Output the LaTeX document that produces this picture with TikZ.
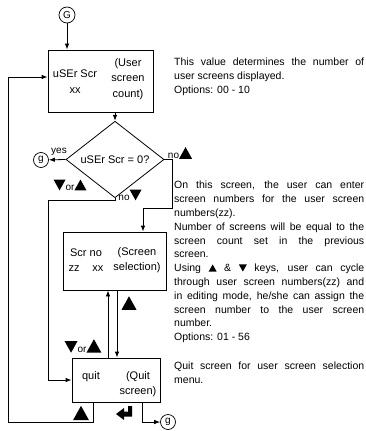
\documentclass[tikz,border=0pt]{standalone}
\usepackage{fontspec}
\setmainfont{Liberation Sans}
\usetikzlibrary{arrows.meta,shapes.geometric}
\newcommand\tup[1]{\tikz[x=1pt,y=1pt,baseline=0pt]\fill (0,0)--(#1,0)--(#1/2,0.9*#1)--cycle;}
\newcommand\tdn[1]{\tikz[x=1pt,y=1pt,baseline=0pt]\fill (0,0.9*#1)--(#1,0.9*#1)--(#1/2,0)--cycle;}
\begin{document}
\begin{tikzpicture}[x=1pt,y=-1pt,
  boxst/.style={draw,line width=0.8pt,inner sep=0pt},
  conn/.style={line width=0.8pt,-{Latex[length=6pt,width=4.5pt]}},
  circ/.style={circle,draw,line width=0.7pt,inner sep=0pt,minimum size=15pt,font=\fontsize{10}{10}\selectfont},
  btxt/.style={inner sep=0pt,align=center,font=\fontsize{11}{15.5}\selectfont},
  lbl/.style={inner sep=0pt,font=\fontsize{10}{12}\selectfont},
  desc/.style={inner sep=0pt,anchor=north west,text width=190pt,align=justify,font=\fontsize{10.5}{13.8}\selectfont},
  dia/.style={diamond,draw,line width=0.8pt,inner sep=0pt,minimum width=98pt,minimum height=53pt,font=\fontsize{11}{13}\selectfont}]
\useasboundingbox (0,0) rectangle (366,431);

% nodes
\node[circ,minimum size=16pt] (G) at (67,15) {G};
\node[boxst,minimum width=105pt,minimum height=62pt] (b1) at (100.5,81) {};
\node[btxt] (b1l) at (75,81.5) {uSEr Scr\\xx};
\node[btxt] (b1r) at (128,79) {(User\\screen\\count)};
\node[dia] (d) at (115,159.5) {uSEr Scr = 0?};
\node[circ] (g1) at (41,160) {g};
\node[boxst,minimum width=103pt,minimum height=58pt] (b2) at (114.5,261) {};
\node[btxt] (b2l) at (86,260) {Scr no\\zz\hspace{13pt}xx};
\node[btxt] (b2r) at (137,260) {(Screen\\selection)};
\node[boxst,minimum width=88pt,minimum height=44pt] (q) at (116,380) {};
\node[btxt] (ql) at (91,377) {quit};
\node[btxt] (qr) at (138,384) {(Quit\\screen)};
\node[circ] (g2) at (168,422) {g};

% connectors
\draw[conn] (G) -- (G |- b1.north);
\draw[conn] (d.north |- b1.south) -- (d.north);
\draw[conn] (d.west) -- (g1);
\coordinate (n1) at (115,200);
\coordinate (n2) at (48,200);
\draw[conn] (d.south) -- (n1) -- (n2) -- (n2 |- q.west) -- (q.west);
\coordinate (e1) at (172,159.5);
\coordinate (e2) at (172,208);
\coordinate (e3) at (143,208);
\draw[conn] (d.east) -- (e1) -- (e2) -- (e3) -- (e3 |- b2.north);
\coordinate (u) at (108,0);
\coordinate (v) at (117,0);
\draw[conn] (u |- q.north) -- (u |- b2.south);
\draw[conn] (v |- b2.south) -- (v |- q.north);
\coordinate (l1) at (93,422);
\coordinate (l2) at (8,422);
\coordinate (l3) at (8,77);
\draw[conn] (l1 |- q.south) -- (l1) -- (l2) -- (l3) -- (l3 -| b1.west);
\coordinate (r1) at (142,422);
\draw[conn] (r1 |- q.south) -- (r1) -- (g2);

% labels
\node[lbl] (yes) at (59,152) {yes};
\node[lbl] (or1) at (70,185) {\tdn{12}or\tup{12}};
\node[lbl] (no1) at (130,195) {no\tdn{12}};
\node[lbl] (no2) at (180,153) {no\tup{13}};
\node[lbl] (up1) at (129,303) {\tup{15}};
\node[lbl] (or2) at (83,346) {\tdn{13}or\tup{15}};
\node[lbl] (up2) at (81,413) {\tup{16}};
\fill (116,414) -- (124,408) -- (124,411.5) -- (128,411.5) -- (128,406) -- (132,406)
  -- (132,416.5) -- (124,416.5) -- (124,420) -- cycle;

% descriptions
\node[desc] (t1) at (174,58) {This value determines the number of\linebreak
user screens displayed.\\
Options: 00 - 10};
\node[desc] (t2) at (174,181) {On this screen, the user can enter\linebreak
screen numbers for the user screen\linebreak
numbers(zz).\\
Number of screens will be equal to the\linebreak
screen count set in the previous\linebreak
screen.\\
Using \tup{8} \& \tdn{8} keys, user can cycle\linebreak
through user screen numbers(zz) and\linebreak
in editing mode, he/she can assign the\linebreak
screen number to the user screen\linebreak
number.\\
Options: 01 - 56};
\node[desc] (t3) at (174,362) {Quit screen for user screen selection\linebreak
menu.};
\end{tikzpicture}
\end{document}
